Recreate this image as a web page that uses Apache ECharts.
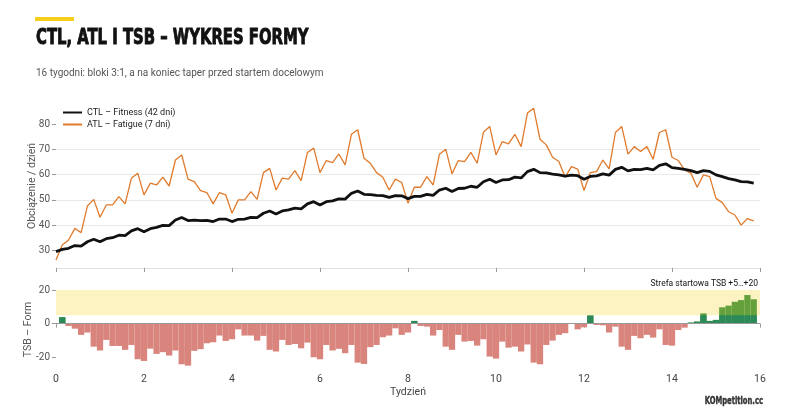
<!DOCTYPE html>
<html>
<head>
<meta charset="utf-8">
<script src="https://cdn.jsdelivr.net/npm/echarts@6/dist/echarts.min.js"></script>
<style>
  html, body { margin: 0; padding: 0; background: #fff; }
  #chart { width: 800px; height: 420px; }
</style>
</head>
<body>
<div id="chart"></div>
<script>
// dane dzienne, 16 tygodni = 112 dni (dzień 0..111)
const ctl = [
  29.5, 30.4, 30.8, 31.9, 31.7, 33.4, 34.4, 33.4, 34.6, 35.0,
  36.0, 35.8, 37.7, 38.6, 37.4, 38.6, 39.1, 39.9, 39.8, 42.0,
  43.0, 41.8, 42.0, 41.8, 41.9, 41.4, 42.4, 42.4, 41.4, 42.3,
  42.4, 43.1, 43.0, 44.7, 45.6, 44.4, 45.6, 46.0, 46.7, 46.4,
  48.4, 49.3, 48.0, 49.3, 49.6, 50.4, 50.3, 52.6, 53.5, 52.2,
  52.1, 51.8, 51.7, 51.0, 51.7, 51.6, 50.5, 51.4, 51.4, 52.2,
  51.8, 53.9, 54.6, 53.3, 54.5, 54.6, 55.4, 55.0, 57.2, 58.2,
  56.9, 57.9, 58.0, 59.0, 58.7, 61.2, 62.1, 60.8, 60.7, 60.2,
  59.9, 59.4, 59.8, 59.6, 58.2, 59.3, 59.5, 60.3, 59.8, 62.1,
  62.9, 61.5, 62.1, 62.0, 62.5, 61.9, 63.7, 64.3, 62.8, 62.5,
  62.1, 61.6, 60.8, 61.6, 61.3, 59.9, 59.2, 58.4, 57.9, 57.2,
  57.1, 56.6
];
const atl = [
  26.2, 32.1, 34.1, 38.7, 37.0, 47.6, 50.2, 43.1, 48.0, 48.0,
  51.3, 48.4, 58.6, 60.6, 52.0, 56.6, 55.9, 59.0, 55.5, 65.8,
  67.8, 58.2, 57.2, 53.7, 52.9, 48.4, 52.9, 52.0, 44.7, 50.0,
  50.0, 53.3, 50.2, 60.8, 62.5, 53.9, 58.6, 58.2, 61.6, 57.6,
  68.8, 70.5, 60.8, 65.6, 64.8, 68.2, 63.9, 76.0, 77.8, 66.5,
  64.5, 60.8, 59.0, 53.9, 58.2, 56.9, 48.7, 55.0, 55.0, 59.2,
  55.9, 68.1, 70.1, 60.3, 65.6, 65.2, 68.8, 64.5, 76.8, 79.1,
  67.8, 73.1, 72.2, 76.0, 71.1, 84.4, 86.3, 74.0, 71.8, 66.9,
  65.2, 59.0, 63.2, 62.2, 53.7, 60.8, 61.2, 65.8, 62.3, 76.7,
  79.1, 68.1, 71.1, 69.2, 71.1, 66.1, 76.7, 77.8, 66.9, 65.6,
  61.9, 60.6, 55.0, 59.9, 59.2, 50.6, 48.9, 45.3, 44.0, 40.0,
  42.6, 41.7
];
const tsb = [
  null, 3.8, -1.4, -3.0, -6.7, -5.3, -13.7, -16.0, -9.7, -13.3,
  -13.3, -15.6, -12.7, -21.2, -22.2, -14.9, -18.0, -17.0, -19.0, -16.0,
  -24.2, -25.0, -16.2, -15.2, -11.7, -11.1, -7.1, -10.3, -9.3, -3.4,
  -7.1, -7.1, -10.1, -7.3, -15.6, -16.6, -9.7, -12.7, -12.1, -14.7,
  -11.3, -20.0, -21.2, -12.7, -16.0, -15.0, -17.6, -12.7, -23.2, -24.0,
  -14.0, -12.7, -8.1, -7.1, -2.8, -6.7, -5.3, 1.6, -1.4, -1.8,
  -7.1, -3.8, -13.7, -15.6, -6.7, -10.7, -10.3, -13.1, -9.3, -19.6,
  -20.8, -10.7, -14.3, -13.7, -16.6, -12.4, -23.2, -24.2, -12.7, -10.1,
  -6.7, -5.7, 0.3, -3.4, -2.2, 4.8, -0.8, -1.0, -5.3, -1.8,
  -13.7, -15.6, -7.3, -8.7, -6.7, -8.3, -3.4, -12.7, -13.1, -3.8,
  -2.4, 0.6, 1.2, 6.1, 1.6, 2.2, 9.7, 10.7, 13.0, 14.0,
  17.0, 14.5
];
const loadTicks = [30, 40, 50, 60, 70, 80];
const tsbTicks = [-20, 0, 20];
const raceZone = [5, 20]; // strefa startowa TSB

const FONT = 'Roboto, "Noto Sans", sans-serif';
const COND = '"DejaVu Sans Condensed", "DejaVu Sans", sans-serif';

const myChart = echarts.init(document.getElementById('chart'));

const asPoints = arr => arr.map((v, i) => [i, v]);
// dolna część dodatniego słupka (0..+5) rysowana na wierzchu ciemną zielenią
const tsbLow = tsb.map((v, i) => [i, v != null && v > 0 ? Math.min(v, raceZone[0]) : null]);

const weekAxis = (grid, showLabels) => ({
  gridIndex: grid,
  type: 'value',
  min: 0,
  max: 112,
  interval: 14,
  axisLine: { show: true, lineStyle: { color: '#e2e2e2' } },
  axisTick: { show: true, length: 4, lineStyle: { color: '#999' } },
  axisLabel: {
    show: showLabels,
    formatter: v => String(v / 7),
    color: '#444', fontSize: 10.5, fontFamily: FONT, margin: 5
  },
  splitLine: { show: false }
});

const option = {
  animation: false,
  backgroundColor: '#fff',
  graphic: [
    { type: 'rect', shape: { x: 35, y: 17, width: 39, height: 4 }, style: { fill: '#f5cf1a' } },
    {
      type: 'text', x: 36, y: 38, scaleX: 0.75,
      style: {
        text: 'CTL, ATL I TSB – WYKRES FORMY',
        fontFamily: COND, fontWeight: 'bold', fontSize: 22, fill: '#111',
        stroke: '#111', lineWidth: 0.9,
        align: 'left', verticalAlign: 'middle'
      }
    },
    {
      type: 'text', x: 36, y: 73,
      style: {
        text: '16 tygodni: bloki 3:1, a na koniec taper przed startem docelowym',
        fontFamily: FONT, fontSize: 10, fill: '#555',
        align: 'left', verticalAlign: 'middle'
      }
    },
    {
      type: 'text', x: 763, y: 401, scaleX: 0.72,
      style: {
        text: 'KOMpetition.cc',
        fontFamily: COND, fontWeight: 'bold', fontSize: 10.5, fill: '#333',
        stroke: '#333', lineWidth: 0.4,
        align: 'right', verticalAlign: 'middle'
      }
    }
  ],
  legend: {
    left: 56,
    top: 106,
    orient: 'vertical',
    itemWidth: 19,
    itemHeight: 10,
    itemGap: 3,
    padding: [2, 6, 2, 6],
    backgroundColor: '#fff',
    itemStyle: { opacity: 0 },
    textStyle: { fontFamily: FONT, fontSize: 9, color: '#222' },
    data: ['CTL – Fitness (42 dni)', 'ATL – Fatigue (7 dni)']
  },
  grid: [
    { left: 56, right: 40, top: 104, height: 164 },
    { left: 56, right: 40, top: 290, height: 79 }
  ],
  xAxis: [
    weekAxis(0, false),
    Object.assign(weekAxis(1, true), {
      name: 'Tydzień',
      nameLocation: 'middle',
      nameGap: 18,
      nameTextStyle: { fontFamily: FONT, fontSize: 10.5, color: '#444' }
    })
  ],
  yAxis: [
    {
      gridIndex: 0,
      type: 'value',
      min: 23,
      max: 88,
      name: 'Obciążenie / dzień',
      nameLocation: 'middle',
      nameGap: 18,
      nameMoveOverlap: false,
      nameTextStyle: { fontFamily: FONT, fontSize: 10.5, color: '#555' },
      axisLine: { show: false },
      axisTick: { show: true, length: 4, customValues: loadTicks, lineStyle: { color: '#999' } },
      axisLabel: { customValues: loadTicks, color: '#555', fontSize: 10, fontFamily: FONT, margin: 6 },
      splitLine: { show: true, showMinLine: false, showMaxLine: false, lineStyle: { color: '#e9e9e9' } }
    },
    {
      gridIndex: 1,
      type: 'value',
      min: -27,
      max: 20,
      name: 'TSB – Form',
      nameLocation: 'middle',
      nameGap: 22,
      nameMoveOverlap: false,
      nameTextStyle: { fontFamily: FONT, fontSize: 10.5, color: '#555' },
      axisLine: { show: false },
      axisTick: { show: true, length: 4, customValues: tsbTicks, lineStyle: { color: '#999' } },
      axisLabel: { customValues: tsbTicks, color: '#555', fontSize: 10, fontFamily: FONT, margin: 6 },
      splitLine: { show: false }
    }
  ],
  series: [
    {
      name: 'CTL – Fitness (42 dni)',
      type: 'line',
      xAxisIndex: 0, yAxisIndex: 0,
      data: asPoints(ctl),
      symbol: 'none',
      z: 4,
      itemStyle: { color: '#111' },
      lineStyle: { color: '#111', width: 2.8 }
    },
    {
      name: 'ATL – Fatigue (7 dni)',
      type: 'line',
      xAxisIndex: 0, yAxisIndex: 0,
      data: asPoints(atl),
      symbol: 'none',
      z: 3,
      itemStyle: { color: '#e07a2c' },
      lineStyle: { color: '#e07a2c', width: 1.3 }
    },
    {
      name: 'TSB',
      type: 'bar',
      xAxisIndex: 1, yAxisIndex: 1,
      barWidth: '100%',
      barGap: '-100%',
      data: asPoints(tsb),
      itemStyle: {
        color: p => (p.value[1] < 0 ? '#d9857d' : '#64a03c')
      },
      markArea: {
        silent: true,
        itemStyle: { color: '#fdf2c2' },
        label: {
          show: true,
          position: ['100%', 0],
          align: 'right',
          verticalAlign: 'bottom',
          offset: [-2, -2],
          fontFamily: FONT, fontSize: 8.5, color: '#111'
        },
        data: [[
          { yAxis: raceZone[0], name: 'Strefa startowa TSB +5…+20' },
          { yAxis: raceZone[1] }
        ]]
      },
      markLine: {
        silent: true,
        symbol: 'none',
        label: { show: false },
        lineStyle: { color: '#999', width: 1, type: 'solid' },
        data: [{ yAxis: 0 }]
      }
    },
    {
      name: 'TSB 0..+5',
      type: 'bar',
      xAxisIndex: 1, yAxisIndex: 1,
      barWidth: '100%',
      barGap: '-100%',
      data: tsbLow,
      itemStyle: { color: '#2b8a58' }
    }
  ]
};

myChart.setOption(option);
</script>
</body>
</html>
